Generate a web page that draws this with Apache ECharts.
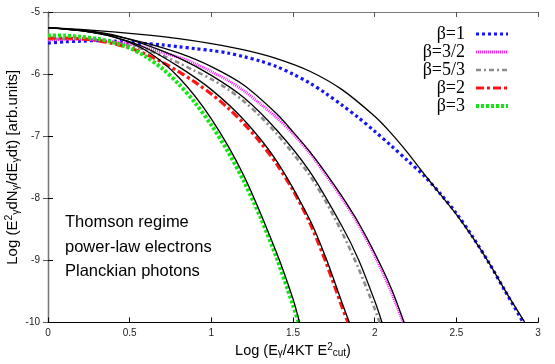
<!DOCTYPE html>
<html>
<head>
<meta charset="utf-8">
<script src="https://cdn.jsdelivr.net/npm/echarts@6/dist/echarts.min.js"></script>
<style>html,body{margin:0;padding:0;background:#fff}#c{width:555px;height:364px}</style>
</head>
<body>
<div id="c"></div>
<script>
// ---- data ----
const legendNames = ['β=1', 'β=3/2', 'β=5/3', 'β=2', 'β=3'];
const xTicks = [0, 0.5, 1, 1.5, 2, 2.5, 3];
const yTicks = [-10, -9, -8, -7, -6, -5];

const blueX = [0,0.1,0.2,0.3,0.4,0.5,0.6,0.7,0.8,0.9,1.0,1.1,1.2,1.3,1.4,1.5,1.6,1.7,1.8,1.9,2.0,2.1,2.2,2.3,2.4,2.5,2.6,2.7,2.8,2.91];
const blueY = [-5.50,-5.48,-5.47,-5.46,-5.47,-5.49,-5.51,-5.53,-5.56,-5.59,-5.62,-5.66,-5.72,-5.79,-5.88,-6.00,-6.14,-6.31,-6.50,-6.70,-6.92,-7.15,-7.39,-7.63,-7.92,-8.24,-8.62,-9.04,-9.50,-10];

const magX = [0,0.1,0.2,0.3,0.4,0.5,0.6,0.7,0.8,0.9,1.0,1.1,1.2,1.3,1.4,1.5,1.6,1.7,1.8,1.9,2.0,2.1,2.175];
const magY = [-5.45,-5.44,-5.44,-5.45,-5.48,-5.52,-5.58,-5.65,-5.73,-5.83,-5.96,-6.10,-6.27,-6.48,-6.70,-6.96,-7.26,-7.62,-8.00,-8.42,-8.92,-9.50,-10];

const grayX = [0,0.1,0.2,0.3,0.4,0.5,0.6,0.7,0.8,0.9,1.0,1.1,1.2,1.3,1.4,1.5,1.6,1.7,1.8,1.9,2.0,2.03];
const grayY = [-5.43,-5.43,-5.43,-5.45,-5.49,-5.54,-5.61,-5.70,-5.82,-5.95,-6.08,-6.24,-6.44,-6.68,-6.96,-7.28,-7.62,-8.05,-8.55,-9.12,-9.78,-10];

const redX = [0,0.1,0.2,0.3,0.4,0.5,0.6,0.7,0.8,0.9,1.0,1.1,1.2,1.3,1.4,1.5,1.6,1.7,1.8,1.837];
const redY = [-5.42,-5.42,-5.43,-5.46,-5.51,-5.58,-5.68,-5.81,-5.96,-6.13,-6.32,-6.54,-6.80,-7.10,-7.45,-7.87,-8.38,-9.02,-9.75,-10];

const greenX = [0,0.1,0.2,0.3,0.4,0.5,0.6,0.7,0.8,0.9,1.0,1.1,1.2,1.3,1.4,1.5,1.535];
const greenY = [-5.38,-5.38,-5.40,-5.43,-5.49,-5.58,-5.72,-5.91,-6.16,-6.46,-6.82,-7.24,-7.73,-8.30,-8.96,-9.72,-10];

// black solid approximations
const fit1X = [0,0.2,0.4,0.6,0.8,1.0,1.2,1.4,1.6,1.8,2.0,2.1,2.2,2.3,2.4,2.5,2.6,2.7,2.8,2.92];
const fit1Y = [-5.25,-5.28,-5.32,-5.37,-5.43,-5.51,-5.61,-5.75,-5.95,-6.25,-6.68,-6.95,-7.26,-7.60,-7.93,-8.26,-8.63,-9.04,-9.49,-10];
const fit2X = [0,0.2,0.4,0.6,0.8,1.0,1.2,1.4,1.5,1.6,1.7,1.8,1.9,2.0,2.1,2.18];
const fit2Y = [-5.25,-5.30,-5.38,-5.50,-5.66,-5.88,-6.18,-6.64,-6.93,-7.24,-7.59,-7.97,-8.39,-8.88,-9.44,-10];
const fit3X = [0,0.2,0.4,0.6,0.8,1.0,1.2,1.4,1.6,1.8,1.9,2.0,2.045];
const fit3Y = [-5.25,-5.29,-5.37,-5.53,-5.74,-6.02,-6.38,-6.90,-7.56,-8.45,-8.98,-9.65,-10];
const fit4X = [0,0.2,0.4,0.6,0.8,1.0,1.2,1.4,1.6,1.7,1.8,1.845];
const fit4Y = [-5.25,-5.30,-5.40,-5.58,-5.88,-6.25,-6.74,-7.40,-8.33,-8.95,-9.68,-10];
const fit5X = [0,0.2,0.4,0.6,0.8,1.0,1.2,1.4,1.5,1.54];
const fit5Y = [-5.25,-5.30,-5.40,-5.62,-6.05,-6.72,-7.64,-8.88,-9.62,-10];

const notes = ['Thomson regime', 'power-law electrons', 'Planckian photons'];

// ---- build ----
const zip = (xs, ys) => xs.map((x, i) => [x, ys[i]]);
const colored = [
  {x: blueX, y: blueY, color: '#1414ff', type: [3, 3], width: 3.2},
  {x: magX, y: magY, color: '#ff1fff', type: [1, 1], width: 3},
  {x: grayX, y: grayY, color: '#8c8c8c', type: [5, 3, 2, 3], width: 2.6},
  {x: redX, y: redY, color: '#ff1414', type: [8, 3, 3, 3], width: 3.2},
  {x: greenX, y: greenY, color: '#14e614', type: [3, 2], width: 4}
];
const fits = [[fit1X, fit1Y], [fit2X, fit2Y], [fit3X, fit3Y], [fit4X, fit4Y], [fit5X, fit5Y]];

const series = [];
colored.forEach((c, i) => {
  series.push({
    name: legendNames[i], type: 'line', smooth: 0.3, showSymbol: false, symbol: 'none',
    data: zip(c.x, c.y), z: 2,
    lineStyle: {color: c.color, width: c.width, type: c.type, cap: 'butt'},
    itemStyle: {color: c.color}
  });
});
fits.forEach((f, i) => {
  series.push({
    name: 'fit' + i, type: 'line', smooth: 0.3, showSymbol: false, symbol: 'none',
    data: zip(f[0], f[1]), z: 3, silent: true,
    lineStyle: {color: '#000', width: 1.3, type: 'solid'}
  });
});

const chart = echarts.init(document.getElementById('c'), null, {renderer: 'canvas'});
const font = 'Liberation Sans, Arial, Helvetica, sans-serif';
const axisCommon = {min: 0, max: 3, interval: 0.5, type: 'value'};
chart.setOption({
  animation: false,
  backgroundColor: '#fff',
  grid: {left: 48, right: 17, top: 12, bottom: 41.5, containLabel: false, outerBoundsMode: 'none'},
  legend: {
    data: legendNames.map((n, i) => ({
      name: n,
      lineStyle: {color: colored[i].color, width: colored[i].width, type: colored[i].type, cap: 'butt'}
    })),
    orient: 'vertical', right: 40, top: 20, align: 'right',
    itemWidth: 32, itemHeight: 8, itemGap: 0,
    itemStyle: {opacity: 0},
    textStyle: {fontFamily: 'Liberation Serif, Times New Roman, serif', fontSize: 18, color: '#000', padding: [0, 6, 0, 0]}
  },
  xAxis: [
    Object.assign({}, axisCommon, {
      position: 'bottom',
      name: 'Log (E{sub|γ}/4KT E{sup|2}{sub|cut})', nameLocation: 'middle', nameGap: 20, nameMoveOverlap: false,
      nameTextStyle: {fontFamily: font, fontSize: 14.5, color: '#000',
        rich: {sub: {fontSize: 10, verticalAlign: 'bottom', padding: [6, 0, 0, 0], fontFamily: font},
               sup: {fontSize: 10, verticalAlign: 'top', padding: [0, 0, 6, 0], fontFamily: font}}},
      axisLine: {lineStyle: {color: '#000', width: 1.2}},
      axisTick: {inside: true, length: 5, lineStyle: {color: '#000'}},
      axisLabel: {fontFamily: font, fontSize: 10, color: '#222', margin: 6},
      splitLine: {show: false}
    }),
    Object.assign({}, axisCommon, {
      position: 'top',
      axisLine: {lineStyle: {color: '#777', width: 1.2}},
      axisTick: {inside: true, length: 5, lineStyle: {color: '#555'}},
      axisLabel: {show: false}, splitLine: {show: false}
    })
  ],
  yAxis: [
    {
      type: 'value', min: -10, max: -5, interval: 1, position: 'left',
      name: 'Log (E{sup|2}{sub|γ}dN{sub|γ}/dE{sub|γ}dt) [arb.units]', nameLocation: 'middle', nameGap: 26, nameRotate: 90,
      nameMoveOverlap: false,
      nameTextStyle: {fontFamily: font, fontSize: 15, color: '#000',
        rich: {sub: {fontSize: 10.5, verticalAlign: 'bottom', padding: [7, 0, 0, 0], fontFamily: font},
               sup: {fontSize: 10.5, verticalAlign: 'top', padding: [0, 0, 7, 0], fontFamily: font}}},
      axisLine: {show: true, lineStyle: {color: '#000', width: 1.2}},
      axisTick: {show: true, inside: true, length: 5, lineStyle: {color: '#000'}},
      axisLabel: {fontFamily: font, fontSize: 10, color: '#222', margin: 8},
      splitLine: {show: false}
    },
    {
      type: 'value', min: -10, max: -5, interval: 1, position: 'right',
      axisLine: {show: true, lineStyle: {color: '#777', width: 1.2}},
      axisTick: {show: true, inside: true, length: 5, lineStyle: {color: '#555'}},
      axisLabel: {show: false}, splitLine: {show: false}
    }
  ],
  graphic: notes.map((t, i) => ({
    type: 'text', left: 65, top: 214 + i * 24.7,
    style: {text: t, font: '16.5px ' + font, fill: '#000'}
  })),
  series: series
});
</script>
</body>
</html>
